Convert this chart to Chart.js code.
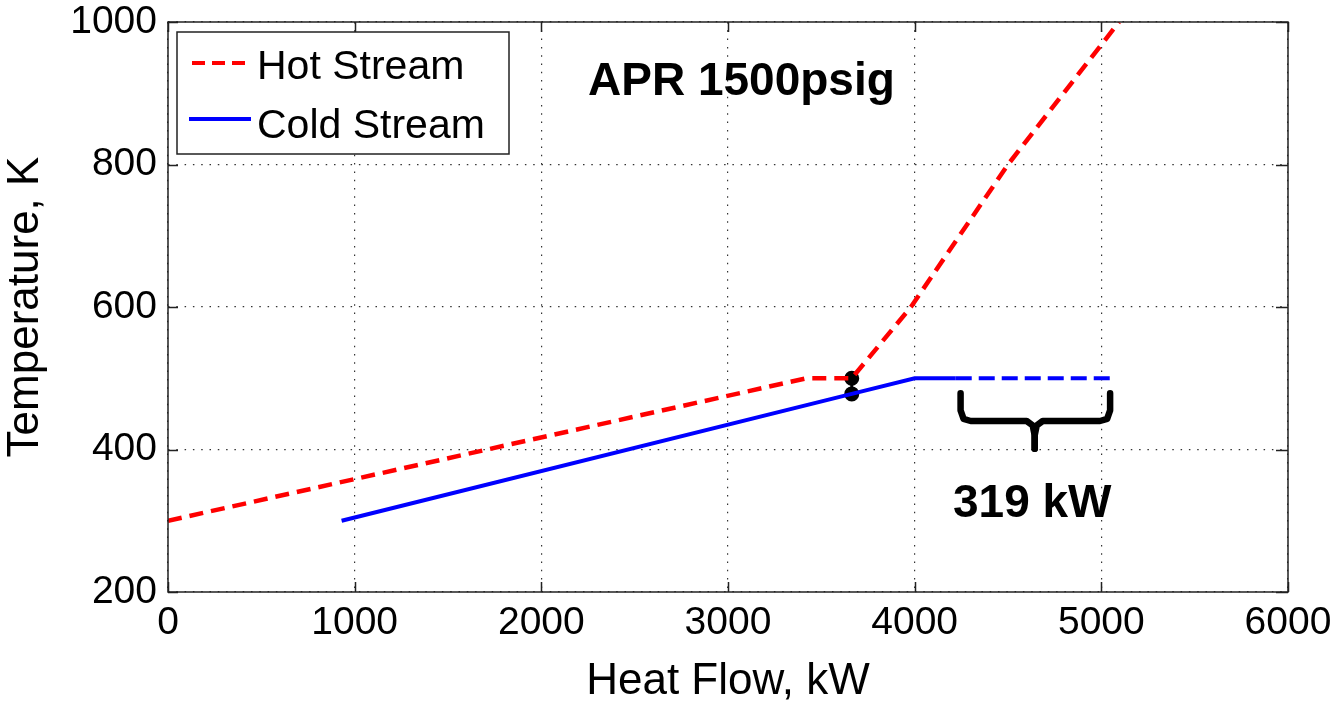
<!DOCTYPE html>
<html><head><meta charset="utf-8">
<script src="https://cdn.jsdelivr.net/npm/chart.js@4"></script>
<style>html,body{margin:0;padding:0;background:#fff;overflow:hidden}</style>
</head><body>
<canvas id="c" width="1338" height="701"></canvas>
<script>
// ---- data ----
const hotQ = [0, 3420, 3663, 3980, 4500, 5095];
const hotT = [300, 500, 500, 600, 800, 1000];
const coldQ = [930, 3663, 4000, 4220];
const coldT = [300, 478, 500, 500];
const coldDashQ = [4220, 5067];
const coldDashT = [500, 500];
const pinchQ = [3663, 3663];
const pinchT = [500, 478];
const braceLeftQ = [4246, 4246, 4262, 4300, 4600, 4632, 4643, 4643];
const braceLeftT = [479, 455, 443, 440, 440, 434, 420, 401];
const braceRightQ = [5047, 5047, 5031, 4993, 4686, 4654, 4643, 4643];
const braceRightT = [479, 455, 443, 440, 440, 434, 420, 401];
const xTicks = [0, 1000, 2000, 3000, 4000, 5000, 6000];
const yTicks = [200, 400, 600, 800, 1000];
const seriesNames = ['Hot Stream', 'Cold Stream'];
const titleText = 'APR 1500psig';
const braceText = '319 kW';
const xTitle = 'Heat Flow, kW';
const yTitle = 'Temperature, K';

const pts = (xs, ys) => xs.map((x, i) => ({x, y: ys[i]}));
const FONT = "'Liberation Sans', Arial, Helvetica, sans-serif";

const overlay = {
  id: 'overlay',
  afterDraw(chart) {
    const ctx = chart.ctx, a = chart.chartArea;
    const xs = chart.scales.x, ys = chart.scales.y;
    ctx.save();
    // inner tick marks
    ctx.strokeStyle = '#222'; ctx.lineWidth = 1.5; ctx.setLineDash([]);
    ctx.beginPath();
    xTicks.forEach(v => { const px = Math.round(xs.getPixelForValue(v)) + 0.5;
      ctx.moveTo(px, a.bottom); ctx.lineTo(px, a.bottom - 10);
      ctx.moveTo(px, a.top); ctx.lineTo(px, a.top + 10); });
    yTicks.forEach(v => { const py = Math.round(ys.getPixelForValue(v)) + 0.5;
      ctx.moveTo(a.left, py); ctx.lineTo(a.left + 10, py);
      ctx.moveTo(a.right, py); ctx.lineTo(a.right - 12, py); });
    ctx.stroke();
    // box
    ctx.strokeStyle = '#222'; ctx.lineWidth = 1.5;
    ctx.strokeRect(a.left, a.top, a.right - a.left, a.bottom - a.top);
    // legend
    const lx = a.left + 9, ly = a.top + 10, lw = 332, lh = 122;
    ctx.fillStyle = '#fff'; ctx.fillRect(lx, ly, lw, lh);
    ctx.strokeStyle = '#222'; ctx.lineWidth = 1.5; ctx.strokeRect(lx, ly, lw, lh);
    ctx.lineWidth = 4; ctx.lineCap = 'butt';
    ctx.strokeStyle = '#ff0000'; ctx.setLineDash([13, 7]);
    ctx.beginPath(); ctx.moveTo(lx + 15, ly + 31); ctx.lineTo(lx + 74, ly + 31); ctx.stroke();
    ctx.strokeStyle = '#0000ff'; ctx.setLineDash([]);
    ctx.beginPath(); ctx.moveTo(lx + 12, ly + 87); ctx.lineTo(lx + 74, ly + 87); ctx.stroke();
    ctx.fillStyle = '#000'; ctx.font = '41px ' + FONT; ctx.textBaseline = 'alphabetic'; ctx.textAlign = 'left';
    ctx.fillText(seriesNames[0], lx + 80, ly + 47);
    ctx.fillText(seriesNames[1], lx + 80, ly + 106);
    // annotations
    ctx.font = 'bold 46px ' + FONT;
    ctx.fillText(titleText, 588, 95);
    ctx.fillText(braceText, 953, 517);
    ctx.restore();
  }
};

new Chart(document.getElementById('c'), {
  type: 'line',
  data: {
    datasets: [
      {label: seriesNames[0], data: pts(hotQ, hotT), borderColor: '#ff0000', borderWidth: 4.5,
       borderDash: [14, 8], pointRadius: 0, tension: 0},
      {label: seriesNames[1], data: pts(coldQ, coldT), borderColor: '#0000ff', borderWidth: 4,
       pointRadius: 0, tension: 0},
      {label: 'cold-ext', data: pts(coldDashQ, coldDashT), borderColor: '#0000ff', borderWidth: 4,
       borderDash: [16, 7], pointRadius: 0, tension: 0},
      {label: 'brace-l', data: pts(braceLeftQ, braceLeftT), borderColor: '#000', borderWidth: 6.5,
       borderCapStyle: 'round', borderJoinStyle: 'round', pointRadius: 0, tension: 0},
      {label: 'brace-r', data: pts(braceRightQ, braceRightT), borderColor: '#000', borderWidth: 6.5,
       borderCapStyle: 'round', borderJoinStyle: 'round', pointRadius: 0, tension: 0},
      {label: 'pinch', data: pts(pinchQ, pinchT), borderColor: '#000', borderWidth: 3,
       pointRadius: 6, pointBackgroundColor: '#000', pointBorderColor: '#000', tension: 0}
    ]
  },
  options: {
    responsive: false, animation: false, devicePixelRatio: 1,
    layout: {padding: {left: 0, top: 22, right: 50, bottom: 0}},
    plugins: {legend: {display: false}, tooltip: {enabled: false}},
    scales: {
      x: {
        type: 'linear', min: 0, max: 6000,
        afterBuildTicks: s => { s.ticks = xTicks.map(v => ({value: v})); },
        afterFit: s => { s.height = 109; s.paddingLeft = 0; s.paddingRight = 0; },
        grid: {color: '#333', lineWidth: 1.2, drawTicks: false},
        border: {display: false, dash: [1.5, 6.8]},
        ticks: {color: '#000', padding: 8, maxRotation: 0, font: {family: FONT, size: 39},
                callback: v => String(v)},
        title: {display: true, text: xTitle, color: '#000', padding: {top: 0, bottom: -3},
                font: {family: FONT, size: 44, lineHeight: 1}}
      },
      y: {
        type: 'linear', min: 200, max: 1000,
        afterBuildTicks: s => { s.ticks = yTicks.map(v => ({value: v})); },
        afterFit: s => { s.width = 168; s.paddingTop = 0; s.paddingBottom = 0; },
        grid: {color: '#333', lineWidth: 1.2, drawTicks: false},
        border: {display: false, dash: [1.5, 6.8]},
        ticks: {color: '#000', padding: 11, font: {family: FONT, size: 39},
                callback: v => String(v)},
        title: {display: true, text: yTitle, color: '#000', padding: {top: 4, bottom: 0},
                font: {family: FONT, size: 44, lineHeight: 1}}
      }
    }
  },
  plugins: [overlay]
});
</script>
</body></html>
